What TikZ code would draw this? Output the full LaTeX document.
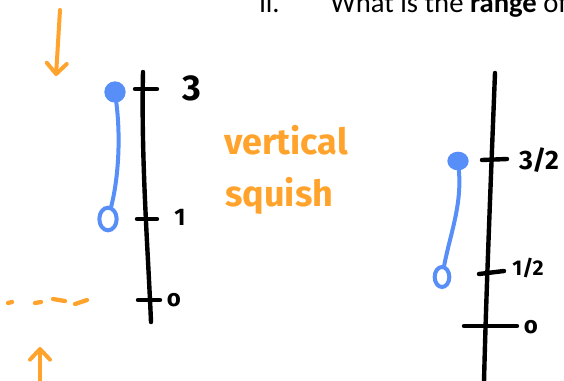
\documentclass[tikz,border=0pt]{standalone}
\usepackage{fontspec}
\setmainfont{Carlito}
\newfontfamily\hand{Fira Sans}
\usetikzlibrary{arrows.meta,shapes.geometric}
\definecolor{inkorange}{RGB}{255,163,44}
\definecolor{inkblue}{RGB}{88,142,247}
\tikzset{
  axisline/.style={line width=3.3pt,line cap=round,black},
  tickline/.style={line width=3.3pt,line cap=round,black},
  blueline/.style={line width=3pt,line cap=round,inkblue},
  dotfilled/.style={ellipse,fill=inkblue,inner sep=0pt},
  dotopen/.style={ellipse,draw=inkblue,line width=3pt,inner sep=0pt},
  orangearrow/.style={line width=3pt,line cap=round,inkorange,-{Straight Barb[length=8pt,width=15pt,line width=3pt,round]}},
  orangedash/.style={line width=3.2pt,line cap=round,inkorange},
  ticklabel/.style={font=\hand\bfseries,inner sep=0pt,black},
  handnote/.style={font=\hand\bfseries\fontsize{27}{29}\selectfont,text=inkorange,inner sep=0pt,anchor=base west},
}
\begin{document}
\begin{tikzpicture}[x=0.75pt,y=-0.75pt]
\useasboundingbox (0,0) rectangle (564,380);
% heading (cut off at the top edge, as in the reference)
\begin{scope}
\clip (0,0) rectangle (564,380);
\node[anchor=base west,inner sep=0pt,font=\fontsize{21.5}{24}\selectfont] (ii) at (259,12) {ii.};
\node[anchor=base west,inner sep=0pt,font=\fontsize{21.5}{24}\selectfont] (q) at (330,12) {What is the \textbf{range} of};
\end{scope}

% ---- left axis ----
\coordinate (LT) at (143,72);
\coordinate (LB) at (151,322);
\draw[axisline] (LT) .. controls (141,160) and (148,250) .. (LB);
\coordinate (l3a) at (135,89);  \coordinate (l3b) at (157,89);
\coordinate (l1a) at (137,219); \coordinate (l1b) at (157,219);
\coordinate (l0a) at (138,300); \coordinate (l0b) at (160,300);
\draw[tickline] (l3a) -- (l3b);
\draw[tickline] (l1a) -- (l1b);
\draw[tickline] (l0a) -- (l0b);
\node[ticklabel,font=\hand\bfseries\fontsize{27}{29}\selectfont] (lab3) at (192,88) {3};
\node[ticklabel,font=\hand\bfseries\fontsize{18}{20}\selectfont] (lab1) at (180,217) {1};
\node[ticklabel,font=\hand\bfseries\fontsize{18}{20}\selectfont] (lab0) at (174,300) {o};

% blue interval left
\node[dotfilled,minimum width=16pt,minimum height=16pt] (dl) at (115,92) {};
\node[dotopen,minimum width=13pt,minimum height=17pt] (ol) at (108,219) {};
\draw[blueline] (dl) .. controls (121,140) and (118,180) .. (ol);

% orange arrows and dashes
\coordinate (a1s) at (60,10);  \coordinate (a1e) at (56,76);
\draw[orangearrow] (a1s) -- (a1e);
\coordinate (a2s) at (40,382); \coordinate (a2e) at (40,347);
\draw[orangearrow] (a2s) -- (a2e);
\draw[orangedash] (8,303) -- (12,302);
\draw[orangedash] (35,303) -- (41,302);
\draw[orangedash] (53,299) -- (65,301);
\draw[orangedash] (75,304) -- (87,300);

\node[handnote] (vert) at (224,154) {vertical};
\node[handnote] (sq) at (225,206) {squish};

% ---- right axis ----
\coordinate (RT) at (495,73);
\coordinate (RB) at (484,382);
\draw[axisline] (RT) .. controls (490,200) and (486,300) .. (RB);
\coordinate (r3a) at (482,160); \coordinate (r3b) at (507,159);
\coordinate (r1a) at (479,274); \coordinate (r1b) at (504,271);
\coordinate (r0a) at (464,326); \coordinate (r0b) at (517,326);
\draw[tickline] (r3a) -- (r3b);
\draw[tickline] (r1a) -- (r1b);
\draw[tickline] (r0a) -- (r0b);
\node[ticklabel,font=\hand\bfseries\fontsize{20}{22}\selectfont] (rab3) at (539,160) {3/2};
\node[ticklabel,font=\hand\bfseries\fontsize{16}{18}\selectfont] (rab1) at (528,268) {1/2};
\node[ticklabel,font=\hand\bfseries\fontsize{18}{20}\selectfont] (rab0) at (531,327) {o};

% blue interval right
\node[dotfilled,minimum width=16pt,minimum height=14pt] (dr) at (458,161) {};
\node[dotopen,minimum width=11pt,minimum height=15pt] (or) at (442,277) {};
\draw[blueline] (dr) .. controls (462,205) and (450,235) .. (or);
\end{tikzpicture}
\end{document}
